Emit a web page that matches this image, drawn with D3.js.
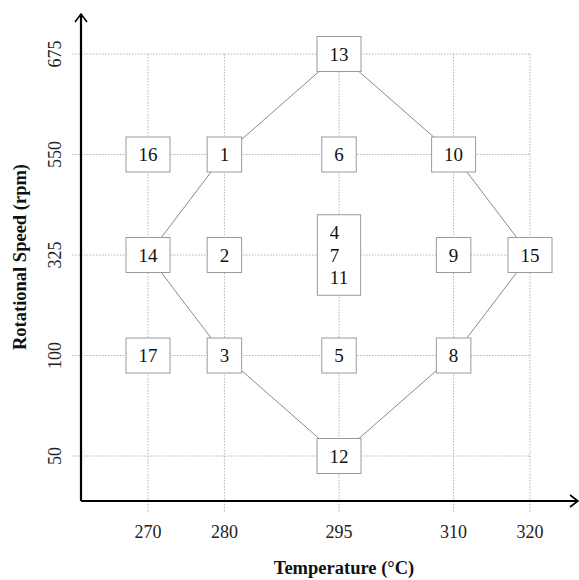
<!DOCTYPE html>
<html>
<head>
<meta charset="utf-8">
<script src="https://cdn.jsdelivr.net/npm/d3@7"></script>
<style>
  html, body { margin: 0; padding: 0; background: #fff; }
  svg { display: block; font-family: "Liberation Serif", "DejaVu Serif", serif; }
</style>
</head>
<body>
<svg id="chart" width="579" height="580"></svg>
<script>
// ---- data ----
const temperatures = [270, 280, 295, 310, 320];
const speeds = ["675", "550", "325", "100", "50"];
const runNumbers = [1, 2, 3, 4, 5, 6, 7, 8, 9, 10, 11, 12, 13, 14, 15, 16, 17];
const runTemps   = [280, 280, 280, 295, 295, 295, 295, 310, 310, 310, 295, 295, 295, 270, 320, 270, 270];
const runSpeeds  = ["550", "325", "100", "325", "100", "550", "325", "100", "325", "550", "325", "50", "675", "325", "325", "550", "100"];
const diamondOrder = [13, 10, 15, 8, 12, 3, 14, 1, 13];
const xTitle = "Temperature (°C)";
const yTitle = "Rotational Speed (rpm)";

// ---- layout ----
const svg = d3.select("#chart");
const axisX = 81, axisY = 501;

const x = d3.scaleLinear().domain([270, 320]).range([148, 530]);
const y = d3.scalePoint().domain(speeds).range([54, 456]);

// grid
const grid = svg.append("g").attr("stroke", "#b4b4b4").attr("stroke-width", 1)
  .attr("stroke-dasharray", "1.5,1.5").attr("fill", "none");
grid.selectAll("line.h").data(speeds).join("line").attr("class", "h")
  .attr("x1", 72).attr("x2", x(320))
  .attr("y1", d => y(d)).attr("y2", d => y(d));
grid.selectAll("line.v").data(temperatures).join("line").attr("class", "v")
  .attr("x1", d => x(d)).attr("x2", d => x(d))
  .attr("y1", y("675")).attr("y2", 513);

// axes (with arrows)
const axes = svg.append("g").attr("stroke", "#000").attr("fill", "none").attr("stroke-width", 2.2);
axes.append("path").attr("d", `M${axisX},${axisY} V14`);
axes.append("path").attr("d", `M${axisX},${axisY} H577`);
axes.append("path").attr("stroke-width", 1.6).attr("d", `M${axisX - 6},${22} L${axisX},${14} L${axisX + 6},${22}`);
axes.append("path").attr("stroke-width", 1.6).attr("d", `M570,${axisY - 6} L578,${axisY} L570,${axisY + 6}`);

// tick labels
svg.append("g").selectAll("text").data(temperatures).join("text")
  .attr("x", d => x(d)).attr("y", 538)
  .attr("text-anchor", "middle").attr("font-size", 18).attr("fill", "#222")
  .text(d => d);
svg.append("g").selectAll("text").data(speeds).join("text")
  .attr("transform", d => `translate(61,${y(d)}) rotate(-90)`)
  .attr("text-anchor", "middle").attr("font-size", 18).attr("fill", "#222")
  .text(d => d);

// axis titles
svg.append("text").attr("x", 344).attr("y", 574).attr("text-anchor", "middle")
  .attr("font-size", 18.5).attr("font-weight", "bold").attr("fill", "#111").text(xTitle);
svg.append("text").attr("transform", "translate(26,257) rotate(-90)").attr("text-anchor", "middle")
  .attr("font-size", 18.5).attr("font-weight", "bold").attr("fill", "#111").text(yTitle);

// runs grouped by design point
const runs = runNumbers.map((n, i) => ({ n, t: runTemps[i], s: runSpeeds[i] }));
const byNum = new Map(runs.map(r => [r.n, r]));
const groups = Array.from(d3.group(runs, r => r.t + "|" + r.s), ([k, arr]) => ({
  t: arr[0].t, s: arr[0].s, labels: arr.map(r => r.n).sort((a, b) => a - b)
}));

// diamond connector lines
const line = d3.line().x(n => x(byNum.get(n).t)).y(n => y(byNum.get(n).s));
svg.append("path").datum(diamondOrder).attr("d", line)
  .attr("fill", "none").attr("stroke", "#8a8a8a").attr("stroke-width", 1);

// boxes
const fs = 19, lineH = 22.5;
const boxes = svg.append("g").selectAll("g").data(groups).join("g")
  .attr("transform", d => `translate(${x(d.t)},${y(d.s)})`);
boxes.each(function(d) {
  const g = d3.select(this);
  const rect = g.append("rect").attr("fill", "#fff").attr("stroke", "#9a9a9a").attr("stroke-width", 1);
  const multi = d.labels.length > 1;
  const texts = g.selectAll("text").data(d.labels).join("text")
    .attr("font-size", fs).attr("fill", "#111")
    .attr("y", (v, i) => (i - (d.labels.length - 1) / 2) * lineH + 6.5)
    .text(v => v);
  let maxW = 0;
  texts.each(function() { maxW = Math.max(maxW, this.getComputedTextLength()); });
  const w = maxW + 25;
  const h = multi ? d.labels.length * lineH + 13 : 35;
  rect.attr("x", -w / 2).attr("y", -h / 2).attr("width", w).attr("height", h);
  if (multi) texts.attr("x", -w / 2 + 12.5).attr("text-anchor", "start");
  else texts.attr("x", 0).attr("text-anchor", "middle");
});
</script>
</body>
</html>
